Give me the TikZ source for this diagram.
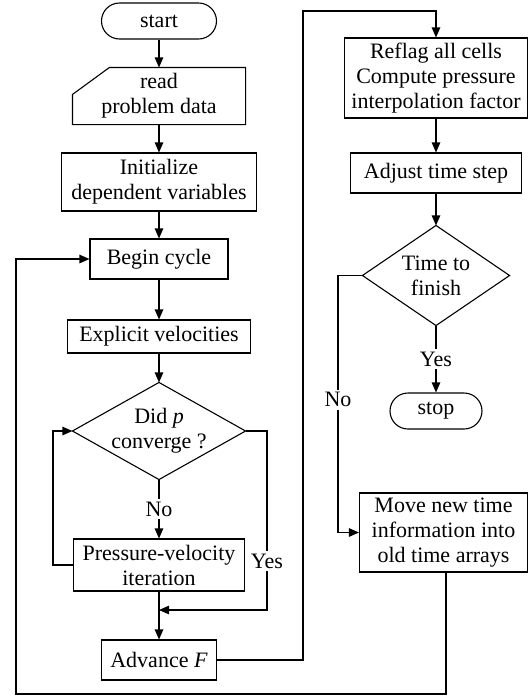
\documentclass[tikz,border=0pt]{standalone}
\usepackage{fontspec}
\setmainfont{Liberation Serif}
\usetikzlibrary{arrows.meta,shapes.misc}
\begin{document}
\begin{tikzpicture}[x=1pt,y=-1pt,font=\fontsize{22}{25}\selectfont,line width=1.1pt,
  box/.style={draw,rectangle,inner sep=0pt,align=center},
  term/.style={draw,rounded rectangle,inner sep=0pt,align=center},
  hid/.style={inner sep=0pt,align=center},
  arr/.style={-{Triangle[length=10pt,width=8.5pt]}},
  lbl/.style={fill=white,inner sep=3pt}]
\useasboundingbox (0,0) rectangle (528,697);
% left column
\node[term,minimum width=115pt,minimum height=36pt] (start) at (159,21) {start};
\node[hid,minimum width=172pt,minimum height=56pt] (read) at (159,96) {read\\problem data};
\draw ([xshift=37pt]read.north west) -- (read.north east) -- (read.south east) -- (read.south west) -- ([yshift=-27pt]read.north west) -- cycle;
\node[box,minimum width=195pt,minimum height=58pt] (init) at (159,182) {Initialize\\dependent variables};
\node[box,minimum width=138pt,minimum height=40pt] (begin) at (159,259) {Begin cycle};
\node[box,minimum width=183pt,minimum height=33pt] (expl) at (159,336.5) {Explicit velocities};
\node[hid,minimum width=172pt,minimum height=96pt] (did) at (159,431) {Did \textit{p}\\converge ?};
\draw (did.north) -- (did.east) -- (did.south) -- (did.west) -- cycle;
\node[box,minimum width=171pt,minimum height=52pt] (pv) at (159,565) {Pressure-velocity\\iteration};
\node[box,minimum width=115pt,minimum height=40pt] (adv) at (159,660) {Advance \textit{F}};
% right column
\node[box,minimum width=183pt,minimum height=80pt] (reflag) at (436,78) {Reflag all cells\\Compute pressure\\interpolation factor};
\node[box,minimum width=171pt,minimum height=40pt] (adj) at (436,173) {Adjust time step};
\node[hid,minimum width=146pt,minimum height=99pt] (time) at (436,275.5) {Time to\\finish};
\draw (time.north) -- (time.east) -- (time.south) -- (time.west) -- cycle;
\node[term,minimum width=92pt,minimum height=36pt] (stop) at (436,411) {stop};
\node[box,minimum width=168pt,minimum height=79pt] (move) at (443.5,532.5) {Move new time\\information into\\old time arrays};
% coordinates
\coordinate (yr) at (267,610);
\coordinate (mj) at (159,610);
\coordinate (tl) at (303,11);
\coordinate (nx) at (338,532.5);
\coordinate (bl) at (16,694);
% connectors
\draw[arr] (start.south) -- (read.north);
\draw[arr] (read.south) -- (init.north);
\draw[arr] (init.south) -- (begin.north);
\draw[arr] (begin.south) -- (expl.north);
\draw[arr] (expl.south) -- (did.north);
\draw[arr] (did.south) -- node[lbl]{No} (pv.north);
\draw[arr] (pv.west) -- ++(-20,0) |- (did.west);
\draw[arr] (did.east) -| node[lbl,pos=0.863]{Yes} (yr) -- (mj);
\draw[arr] (pv.south) -- (adv.north);
\draw[arr] (adv.east) -| (tl) -| (reflag.north);
\draw[arr] (reflag.south) -- (adj.north);
\draw[arr] (adj.south) -- (time.north);
\draw[arr] (time.south) -- node[lbl]{Yes} (stop.north);
\draw[arr] (time.west) -| node[lbl,pos=0.742]{No} (nx) -- (move.west);
\draw[arr] ([xshift=2.5pt]move.south) |- (bl) |- (begin.west);
\end{tikzpicture}
\end{document}
